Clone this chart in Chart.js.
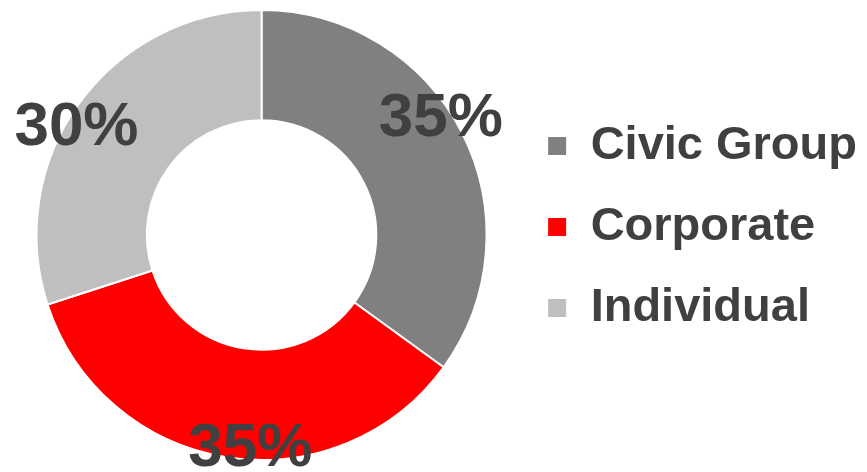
<!DOCTYPE html>
<html>
<head>
<meta charset="utf-8">
<script src="https://cdn.jsdelivr.net/npm/chart.js@4"></script>
<style>
  html, body { margin: 0; padding: 0; background: #fff; }
  #wrap { width: 867px; height: 472px; }
</style>
</head>
<body>
<div id="wrap"><canvas id="donutChart" width="867" height="472"></canvas></div>
<script>
// Funding source split
const categories = ['Civic Group', 'Corporate', 'Individual'];
const shares = [35, 35, 30];
const sliceColors = ['#808080', '#ff0000', '#bfbfbf'];

// Percent labels placed near the outer edge of each arc
const percentLabels = {
    id: 'percentLabels',
    afterDatasetsDraw(chart) {
        const ctx = chart.ctx;
        const meta = chart.getDatasetMeta(0);
        const total = shares.reduce((a, b) => a + b, 0);
        ctx.save();
        ctx.font = 'bold 62px "Liberation Sans", Arial, sans-serif';
        ctx.fillStyle = '#404040';
        ctx.textAlign = 'center';
        ctx.textBaseline = 'middle';
        meta.data.forEach((arc, i) => {
            const p = arc.getProps(['x', 'y', 'startAngle', 'endAngle', 'outerRadius'], true);
            const mid = (p.startAngle + p.endAngle) / 2 - 6 * Math.PI / 180;
            const r = p.outerRadius * 0.95;
            const txt = Math.round(shares[i] / total * 100) + '%';
            ctx.fillText(txt, p.x + r * Math.cos(mid), p.y + r * Math.sin(mid));
        });
        ctx.restore();
    }
};

// nudge the legend block up a little
const legendNudge = {
    id: 'legendNudge',
    afterLayout(chart) {
        const lg = chart.legend;
        if (lg) {
            lg.top -= 8;
            lg.bottom -= 8;
        }
    }
};

const ctxDonut = document.getElementById('donutChart').getContext('2d');
const donutChart = new Chart(ctxDonut, {
    type: 'doughnut',
    data: {
        labels: categories,
        datasets: [{
            data: shares,
            backgroundColor: sliceColors,
            borderColor: '#ffffff',
            borderWidth: 2
        }]
    },
    options: {
        responsive: false,
        animation: false,
        cutout: '51%',
        layout: {
            padding: { left: 10, right: 0, top: 9, bottom: 11 }
        },
        plugins: {
            tooltip: { enabled: false },
            legend: {
                position: 'right',
                labels: {
                    boxWidth: 20,
                    boxHeight: 20,
                    padding: 34,
                    color: '#404040',
                    font: { family: '"Liberation Sans", Arial, sans-serif', size: 47, weight: 'bold' }
                }
            }
        }
    },
    plugins: [percentLabels, legendNudge]
});
</script>
</body>
</html>
